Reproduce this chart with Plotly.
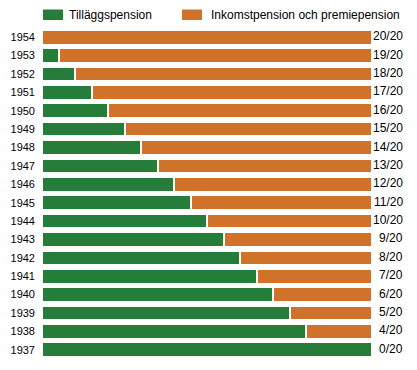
import plotly.graph_objects as go

# Data
years = list(range(1937, 1955))
inkomst_share = [0, 4, 5, 6, 7, 8, 9, 10, 11, 12, 13, 14, 15, 16, 17, 18, 19, 20]  # out of 20
tillagg_share = [20 - v for v in inkomst_share]
right_labels = [f"{v}/20" for v in inkomst_share]

series_names = ["Tilläggspension", "Inkomstpension och premiepension"]
GREEN = "#267D3A"
ORANGE = "#D0722A"

W, H = 417, 370
ML, MR, MT, MB = 42, 45, 28, 11
PW, PH = W - ML - MR, H - MT - MB


def px_x(p):
    return (p - ML) / PW


def px_y(p):
    return (H - MB - p) / PH


fig = go.Figure()
fig.add_trace(go.Bar(
    y=years, x=tillagg_share, orientation="h", name=series_names[0],
    marker=dict(color=GREEN, line=dict(color="white", width=2)),
    width=0.8, showlegend=False,
))
fig.add_trace(go.Bar(
    y=years, x=inkomst_share, orientation="h", name=series_names[1],
    marker=dict(color=ORANGE, line=dict(color="white", width=2)),
    width=0.8, showlegend=False,
))

annotations = []
for yr, lab in zip(years, right_labels):
    annotations.append(dict(
        x=20, y=yr, xref="x", yref="y", text=lab, showarrow=False,
        xanchor="right", yanchor="middle", xshift=33, yshift=1,
        font=dict(family="Liberation Sans, Arial, sans-serif", size=12, color="black"),
    ))

# Manual legend
shapes = []
legend_items = [(43, 63, 67, series_names[0], GREEN), (182, 202, 209, series_names[1], ORANGE)]
for x0, x1, tx, name, col in legend_items:
    shapes.append(dict(type="rect", xref="paper", yref="paper",
                       x0=px_x(x0), x1=px_x(x1), y0=px_y(20), y1=px_y(9.5),
                       fillcolor=col, line=dict(width=0)))
    annotations.append(dict(
        x=px_x(tx), y=px_y(15), xref="paper", yref="paper", text=name,
        showarrow=False, xanchor="left", yanchor="middle",
        font=dict(family="Liberation Sans, Arial, sans-serif", size=12, color="black"),
    ))

fig.update_layout(
    width=W, height=H, barmode="stack",
    margin=dict(l=ML, r=MR, t=MT, b=MB, pad=0, autoexpand=False),
    paper_bgcolor="white", plot_bgcolor="white",
    showlegend=False, shapes=shapes, annotations=annotations,
    xaxis=dict(range=[0, 20], showgrid=False, zeroline=False, showticklabels=False,
               showline=False, fixedrange=True, automargin=False),
    yaxis=dict(range=[years[0] - 0.5, years[-1] + 0.5], tickmode="array",
               tickvals=years, ticktext=[str(y) for y in years],
               showgrid=False, zeroline=False, showline=False, automargin=False,
               tickfont=dict(family="Liberation Sans, Arial", size=11, color="black"),
               ticklabelstandoff=6, fixedrange=True),
)

fig.write_html("out.html", config={"displayModeBar": False},
               post_script="document.body.style.margin='0';document.body.style.overflow='hidden';")
